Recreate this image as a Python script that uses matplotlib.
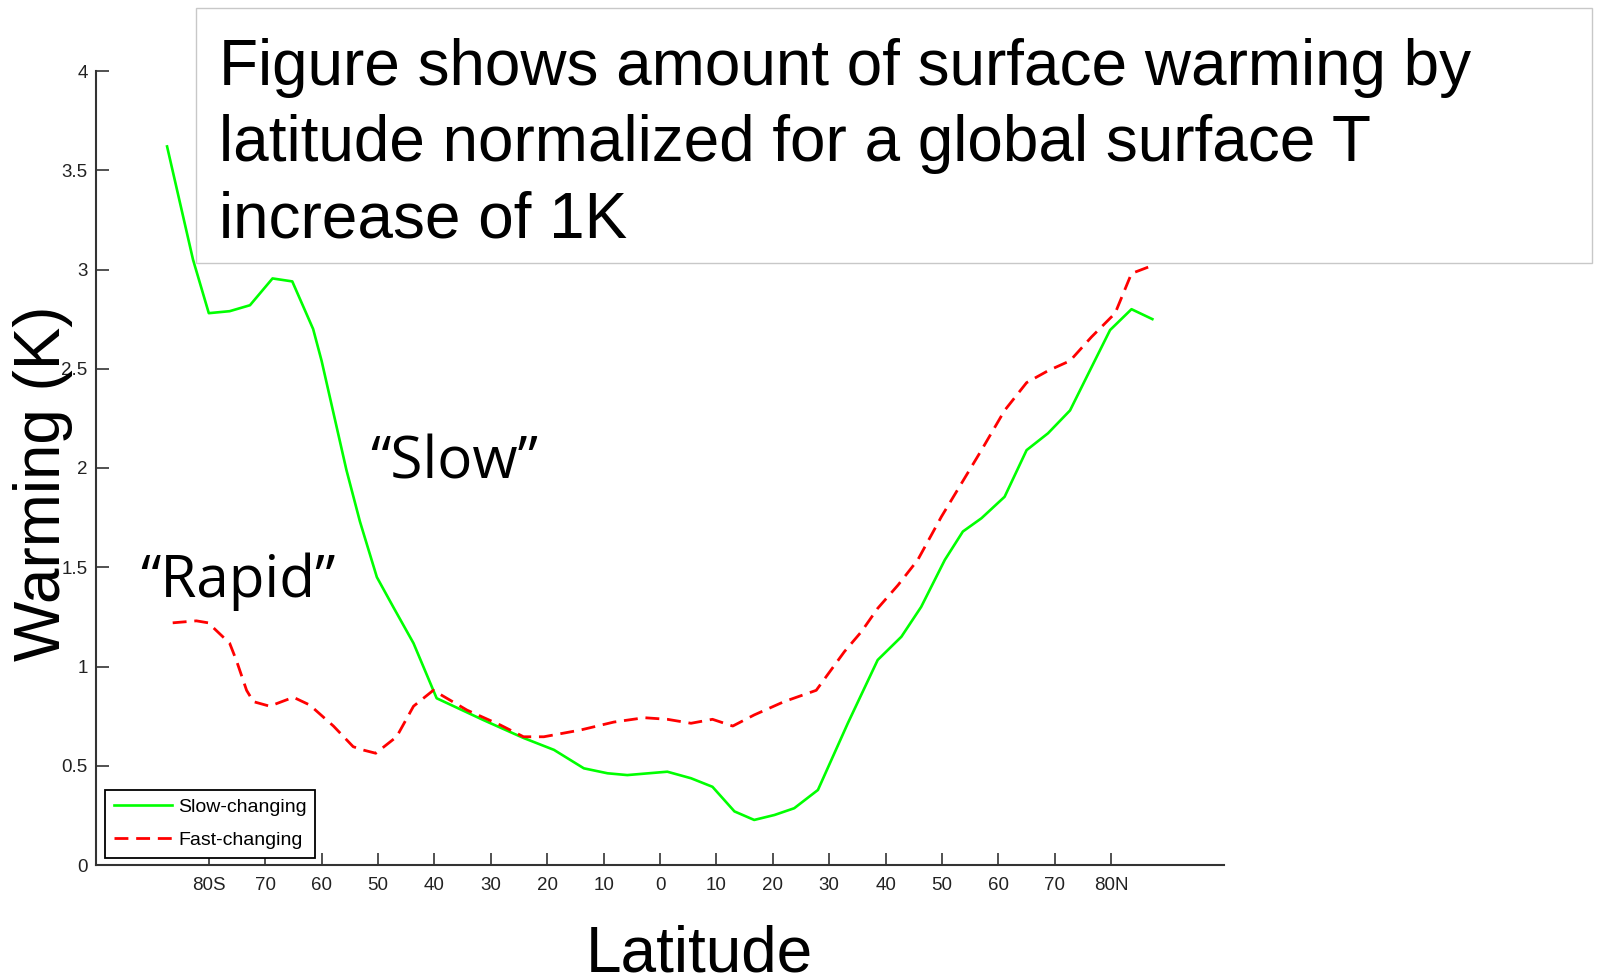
import numpy as np
import matplotlib.pyplot as plt
from matplotlib.patches import Rectangle

# zonal-mean surface warming per 1K global warming
slow_lat = [-87.4, -82.8, -80.0, -76.3, -72.7, -68.7, -65.2, -61.5, -60.0, -55.6,
            -53.2, -50.2, -47.3, -43.7, -39.6, -31.3, -24.2, -18.8, -13.5, -9.3,
            -5.8, 1.3, 5.5, 9.3, 13.2, 16.7, 20.3, 23.8, 28.0, 33.3,
            38.6, 42.8, 46.3, 50.5, 53.7, 57.0, 61.1, 65.0, 68.8, 72.7,
            76.2, 79.8, 83.6, 87.3]
slow_val = [3.62, 3.05, 2.78, 2.79, 2.82, 2.955, 2.94, 2.70, 2.54, 1.99,
            1.73, 1.45, 1.30, 1.117, 0.84, 0.73, 0.64, 0.58, 0.487, 0.462,
            0.453, 0.47, 0.437, 0.394, 0.27, 0.227, 0.252, 0.286, 0.378, 0.714,
            1.033, 1.15, 1.30, 1.537, 1.68, 1.747, 1.855, 2.09, 2.175, 2.29,
            2.49, 2.695, 2.80, 2.75]

fast_lat = [-86.4, -82.2, -80.1, -76.3, -75.1, -73.3, -72.1, -69.2, -65.0, -62.1,
            -57.9, -54.4, -52.6, -50.4, -46.7, -43.7, -40.2, -34.2, -28.3, -24.2,
            -20.6, -14.1, -8.2, -2.8, 1.3, 5.5, 9.3, 12.9, 16.7, 22.0,
            27.7, 32.7, 35.7, 38.6, 42.2, 45.7, 49.9, 53.4, 57.0, 61.1,
            65.0, 68.8, 72.7, 76.5, 80.7, 83.6, 87.3]
fast_val = [1.22, 1.23, 1.22, 1.117, 1.03, 0.88, 0.823, 0.80, 0.845, 0.806,
            0.70, 0.596, 0.579, 0.563, 0.646, 0.80, 0.88, 0.78, 0.705, 0.646,
            0.646, 0.68, 0.72, 0.742, 0.734, 0.714, 0.734, 0.70, 0.756, 0.823,
            0.88, 1.075, 1.175, 1.293, 1.41, 1.537, 1.755, 1.92, 2.09, 2.29,
            2.43, 2.49, 2.54, 2.66, 2.78, 2.98, 3.02]

xticks = [-80, -70, -60, -50, -40, -30, -20, -10, 0, 10, 20, 30, 40, 50, 60, 70, 80]
xticklabels = ['80S', '70', '60', '50', '40', '30', '20', '10', '0',
               '10', '20', '30', '40', '50', '60', '70', '80N']
yticks = [0, 0.5, 1, 1.5, 2, 2.5, 3, 3.5, 4]
yticklabels = ['0', '0.5', '1', '1.5', '2', '2.5', '3', '3.5', '4']

sans = ['Liberation Sans', 'DejaVu Sans']
plt.rcParams['font.family'] = sans

fig = plt.figure(figsize=(15.97, 9.77), dpi=100)
ax = fig.add_axes([96/1597, 112/977, 1128/1597, 794/977])

ax.plot(slow_lat, slow_val, color='#00ff00', lw=1.9, label='Slow-changing')
ax.plot(fast_lat, fast_val, color='#ff0000', lw=2.0, linestyle=(0, (5, 2.8)),
        label='Fast-changing')

ax.set_xlim(-100, 100)
ax.set_ylim(0, 4)
ax.set_xticks(xticks)
ax.set_xticklabels(xticklabels)
ax.set_yticks(yticks)
ax.set_yticklabels(yticklabels)
ax.tick_params(direction='in', length=9, width=1.2, color='#333333',
               labelsize=13.5, labelcolor='#222222')
ax.tick_params(axis='x', pad=9)
ax.tick_params(axis='y', pad=6)
for s in ['top', 'right']:
    ax.spines[s].set_visible(False)
for s in ['left', 'bottom']:
    ax.spines[s].set_linewidth(1.5)
    ax.spines[s].set_color('#333333')

leg = ax.legend(loc='lower left', bbox_to_anchor=(0.008, 0.009), borderaxespad=0,
                fancybox=False, framealpha=1, edgecolor='black', fontsize=14,
                handlelength=3.0, handletextpad=0.3, labelspacing=0.8,
                borderpad=0.45)
leg.get_frame().set_linewidth(1.3)

# headline box
fig.patches.append(Rectangle((196/1597, 714/977), 1396/1597, 255/977,
                             transform=fig.transFigure, facecolor='white',
                             edgecolor='#c8c8c8', lw=1, zorder=5))
head = ['Figure shows amount of surface warming by',
        'latitude normalized for a global surface T',
        'increase of 1K']
for i, line in enumerate(head):
    fig.text(219/1597, 1 - (85 + 76*i)/977, line, fontsize=46, va='baseline',
             ha='left', zorder=6)

fig.text(370/1597, 1 - 479/977, '\u201cSlow\u201d', fontsize=42,
         family=['Open Sans', 'DejaVu Sans'], va='baseline')
fig.text(140/1597, 1 - 597/977, '\u201cRapid\u201d', fontsize=42,
         family=['Open Sans', 'DejaVu Sans'], va='baseline')

fig.text(43/1597, 1 - 483/977, 'Warming (K)', fontsize=46, rotation=90,
         ha='center', va='center')
fig.text(699/1597, 1 - 972/977, 'Latitude', fontsize=46, ha='center',
         va='baseline')

fig.savefig('out.png', dpi=100)
